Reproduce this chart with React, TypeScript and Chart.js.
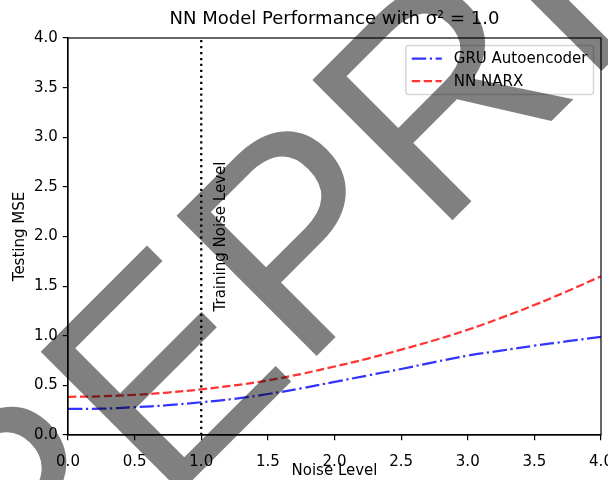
import React, { useEffect, useRef } from 'react';
import { Chart, registerables } from 'chart.js';

Chart.register(...registerables);

// ---- data ----
const noiseLevels = [0, 0.25, 0.5, 0.75, 1, 1.25, 1.5, 1.75, 2, 2.25, 2.5, 2.75, 3, 3.25, 3.5, 3.75, 4];
const gruMse = [0.262, 0.265, 0.28, 0.3, 0.33, 0.365, 0.413, 0.47, 0.535, 0.6, 0.665, 0.735, 0.8, 0.85, 0.9, 0.945, 0.99];
const narxMse = [0.385, 0.39, 0.405, 0.428, 0.46, 0.5, 0.55, 0.615, 0.69, 0.77, 0.86, 0.955, 1.06, 1.18, 1.31, 1.45, 1.6];
const seriesLabels = ['GRU Autoencoder', 'NN NARX'];
const trainingNoise = 1.0;
const xTickValues = [0, 0.5, 1, 1.5, 2, 2.5, 3, 3.5, 4];
const yTickValues = [0, 0.5, 1, 1.5, 2, 2.5, 3, 3.5, 4];
const chartTitle = 'NN Model Performance with σ² = 1.0';
const xLabel = 'Noise Level';
const yLabel = 'Testing MSE';
const vlineLabel = 'Training Noise Level';
const watermarkText = 'PREPRINT';

// ---- styles ----
const FAMILY = '"DejaVu Sans", sans-serif';
const FS = 15;
const LW = 2.25;
const DASH_DOT = [14.4, 3.6, 2.25, 3.6];
const DASHED = [8.3, 3.6];
const DOTTED = [2.25, 3.7];
const BLUE = 'rgba(0,0,255,0.8)';
const RED = 'rgba(255,0,0,0.8)';
const VLINE_LABEL_POS = { x: 1.148, y: 2.0 };
const WATERMARK_ORIGIN = { x: -118.8, y: 791.4 };

const bgPlugin = {
  id: 'bg',
  beforeDraw(chart: any) {
    const ctx = chart.ctx;
    ctx.save();
    ctx.fillStyle = '#ffffff';
    ctx.fillRect(0, 0, chart.width, chart.height);
    ctx.restore();
  },
};

const overlayPlugin = {
  id: 'overlay',
  afterDatasetsDraw(chart: any) {
    const ctx = chart.ctx;
    const ca = chart.chartArea;
    const xs = chart.scales.x;
    const ys = chart.scales.y;
    ctx.save();
    // vline label
    ctx.fillStyle = '#000';
    ctx.font = `${FS}px ${FAMILY}`;
    ctx.textAlign = 'center';
    ctx.textBaseline = 'middle';
    ctx.translate(xs.getPixelForValue(VLINE_LABEL_POS.x), ys.getPixelForValue(VLINE_LABEL_POS.y));
    ctx.rotate(-Math.PI / 2);
    ctx.fillText(vlineLabel, 0, 0);
    ctx.restore();

    // legend
    ctx.save();
    ctx.font = `${FS}px ${FAMILY}`;
    const textW = Math.max(...seriesLabels.map((l) => ctx.measureText(l).width));
    const pad = 6;
    const handleLen = 30;
    const handleGap = 12;
    const w = pad + handleLen + handleGap + textW + pad;
    const h = 49;
    const right = ca.right - 7.5;
    const top = ca.top + 7.5;
    const left = right - w;
    const r = 3;
    ctx.beginPath();
    ctx.moveTo(left + r, top);
    ctx.lineTo(right - r, top);
    ctx.arcTo(right, top, right, top + r, r);
    ctx.lineTo(right, top + h - r);
    ctx.arcTo(right, top + h, right - r, top + h, r);
    ctx.lineTo(left + r, top + h);
    ctx.arcTo(left, top + h, left, top + h - r, r);
    ctx.lineTo(left, top + r);
    ctx.arcTo(left, top, left + r, top, r);
    ctx.closePath();
    ctx.fillStyle = 'rgba(255,255,255,0.8)';
    ctx.fill();
    ctx.strokeStyle = 'rgba(204,204,204,0.8)';
    ctx.lineWidth = 1.5;
    ctx.stroke();
    const rows = [
      { label: seriesLabels[0], color: BLUE, dash: DASH_DOT, y: top + 13 },
      { label: seriesLabels[1], color: RED, dash: DASHED, y: top + 35.5 },
    ];
    rows.forEach((row) => {
      ctx.beginPath();
      ctx.setLineDash(row.dash);
      ctx.strokeStyle = row.color;
      ctx.lineWidth = LW;
      ctx.moveTo(left + pad, row.y);
      ctx.lineTo(left + pad + handleLen, row.y);
      ctx.stroke();
      ctx.setLineDash([]);
      ctx.fillStyle = '#000';
      ctx.textAlign = 'left';
      ctx.textBaseline = 'middle';
      ctx.fillText(row.label, left + pad + handleLen + handleGap, row.y + 1);
    });
    ctx.restore();

    // frame (spines)
    ctx.save();
    ctx.strokeStyle = '#000';
    ctx.lineWidth = 1.2;
    ctx.strokeRect(ca.left, ca.top, ca.right - ca.left, ca.bottom - ca.top);
    ctx.restore();
  },
};

const watermarkPlugin = {
  id: 'watermark',
  afterDraw(chart: any) {
    const ctx = chart.ctx;
    ctx.save();
    ctx.globalCompositeOperation = 'multiply';
    ctx.translate(WATERMARK_ORIGIN.x, WATERMARK_ORIGIN.y);
    ctx.rotate(-Math.PI / 4);
    ctx.font = '288px "Liberation Sans", Arial, sans-serif';
    ctx.fillStyle = '#808080';
    ctx.textAlign = 'left';
    ctx.textBaseline = 'alphabetic';
    ctx.fillText(watermarkText, 0, 0);
    ctx.restore();
  },
};

export default function App() {
  const canvasRef = useRef<HTMLCanvasElement | null>(null);

  useEffect(() => {
    document.body.style.margin = '0';
    const canvas = canvasRef.current;
    if (!canvas) return;
    const font = { family: FAMILY, size: FS, weight: 'normal' as const };
    const chart = new Chart(canvas, {
      type: 'line',
      data: {
        datasets: [
          {
            label: seriesLabels[0],
            data: noiseLevels.map((x, i) => ({ x, y: gruMse[i] })),
            borderColor: BLUE,
            backgroundColor: BLUE,
            borderDash: DASH_DOT,
            borderWidth: LW,
            pointRadius: 0,
            tension: 0.4,
            fill: false,
          },
          {
            label: seriesLabels[1],
            data: noiseLevels.map((x, i) => ({ x, y: narxMse[i] })),
            borderColor: RED,
            backgroundColor: RED,
            borderDash: DASHED,
            borderWidth: LW,
            pointRadius: 0,
            tension: 0.4,
            fill: false,
          },
          {
            label: vlineLabel,
            data: [
              { x: trainingNoise, y: yTickValues[0] },
              { x: trainingNoise, y: yTickValues[yTickValues.length - 1] },
            ],
            borderColor: '#000',
            borderDash: DOTTED,
            borderWidth: LW,
            pointRadius: 0,
            fill: false,
          },
        ],
      },
      options: {
        responsive: false,
        animation: false,
        devicePixelRatio: 1,
        events: [],
        layout: { padding: { left: 0, right: 7, top: 0, bottom: 0 } },
        plugins: {
          legend: { display: false },
          tooltip: { enabled: false },
          title: {
            display: true,
            text: chartTitle,
            fullSize: false,
            color: '#000',
            font: { family: FAMILY, size: 18, weight: 'normal' },
            padding: { top: 9, bottom: 7.4 },
          },
        },
        scales: {
          x: {
            type: 'linear',
            min: xTickValues[0],
            max: xTickValues[xTickValues.length - 1],
            afterBuildTicks: (s: any) => {
              s.ticks = xTickValues.map((v) => ({ value: v }));
            },
            afterFit: (s: any) => {
              s.height = 45;
              s.paddingLeft = 0;
              s.paddingRight = 0;
            },
            ticks: {
              callback: (v: any) => Number(v).toFixed(1),
              font,
              color: '#000',
              padding: 13,
              maxRotation: 0,
              autoSkip: false,
            },
            grid: { drawOnChartArea: false, drawTicks: true, tickLength: 5.25, color: '#000', lineWidth: 1.2 },
            border: { display: true, color: '#000', width: 1.2 },
            title: { display: true, text: xLabel, font, color: '#000', padding: { top: 0, bottom: 0 } },
          },
          y: {
            type: 'linear',
            min: yTickValues[0],
            max: yTickValues[yTickValues.length - 1],
            afterBuildTicks: (s: any) => {
              s.ticks = yTickValues.map((v) => ({ value: v }));
            },
            afterFit: (s: any) => {
              s.width = 68;
              s.paddingTop = 0;
              s.paddingBottom = 0;
            },
            ticks: {
              callback: (v: any) => Number(v).toFixed(1),
              font,
              color: '#000',
              padding: 5,
              autoSkip: false,
            },
            grid: { drawOnChartArea: false, drawTicks: true, tickLength: 5.25, color: '#000', lineWidth: 1.2 },
            border: { display: true, color: '#000', width: 1.2 },
            title: { display: true, text: yLabel, font, color: '#000', padding: { top: 11, bottom: 0 } },
          },
        },
      },
      plugins: [bgPlugin, overlayPlugin, watermarkPlugin],
    });
    return () => chart.destroy();
  }, []);

  return (
    <div style={{ position: 'absolute', left: 0, top: 0, width: 608, height: 480 }}>
      <canvas ref={canvasRef} width={608} height={480} style={{ width: 608, height: 480 }} />
    </div>
  );
}
